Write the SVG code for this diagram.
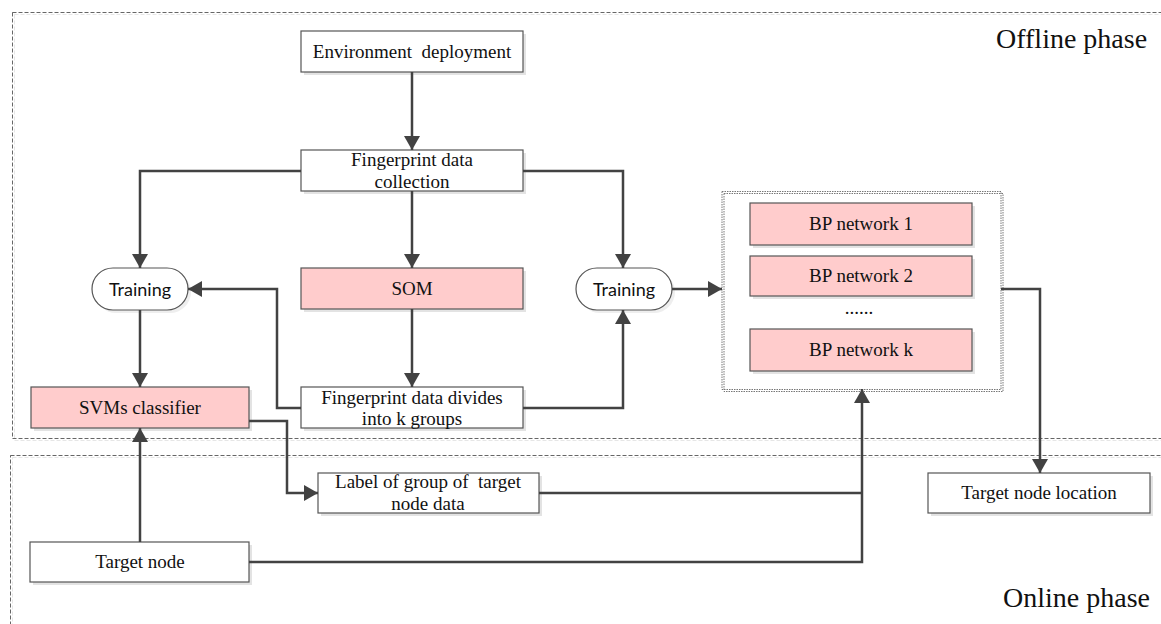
<svg xmlns="http://www.w3.org/2000/svg" width="1161" height="624" viewBox="0 0 1161 624">
<style>
.box{fill:#fff;stroke:#555;stroke-width:1.2}
.pink{fill:#ffcccc;stroke:#555;stroke-width:1.2}
.sh{fill:#e3e3e3;stroke:none}
.t{font-family:"Liberation Serif","Times New Roman",serif;font-size:19px;fill:#111;text-anchor:middle}
.ts{font-family:Lato,"Open Sans",sans-serif;font-size:18px;fill:#111;text-anchor:middle}
.ph{font-family:"Liberation Serif","Times New Roman",serif;font-size:28px;fill:#111}
.c{fill:none;stroke:#424242;stroke-width:2.5}
.dash{fill:none;stroke:#666;stroke-width:1;stroke-dasharray:4 2}
.dashsh{fill:none;stroke:#e6e6e6;stroke-width:1;stroke-dasharray:4 2}
.dot{fill:none;stroke:#777;stroke-width:1;stroke-dasharray:1.5 1}
</style>
<defs>
<marker id="ah" markerUnits="userSpaceOnUse" markerWidth="16" markerHeight="16" refX="14" refY="8" orient="auto">
<path d="M0,0 L14,8 L0,16 z" fill="#424242"/>
</marker>
</defs>
<rect width="1161" height="624" fill="#fff"/>
<g id="offline-phase">
<rect x="14.5" y="14.5" width="1160" height="426" class="dashsh"/>
<rect x="12.5" y="12.5" width="1160" height="426" class="dash"/>
<text x="996" y="48" class="ph">Offline phase</text>
</g>
<g id="online-phase">
<rect x="12.5" y="457.5" width="1160" height="200" class="dashsh"/>
<rect x="10.5" y="455.5" width="1160" height="200" class="dash"/>
<text x="1003" y="607" class="ph">Online phase</text>
</g>
<g id="env">
<rect x="304" y="34" width="222" height="41" class="sh"/>
<rect x="301" y="31" width="222" height="41" class="box"/>
<text x="412" y="58" class="t" xml:space="preserve">Environment  deployment</text>
</g>
<g id="fdc">
<rect x="304" y="153" width="222" height="41" class="sh"/>
<rect x="301" y="150" width="222" height="41" class="box"/>
<text x="412" y="166" class="t">Fingerprint data</text>
<text x="412" y="188" class="t">collection</text>
</g>
<g id="training1">
<rect x="95" y="271" width="96" height="42" rx="21" class="sh" fill-opacity="0.6"/>
<rect x="92" y="268" width="96" height="42" rx="21" class="box"/>
<text x="140" y="296" class="ts">Training</text>
</g>
<g id="som">
<rect x="304" y="271" width="222" height="41" class="sh"/>
<rect x="301" y="268" width="222" height="41" class="pink"/>
<text x="412" y="295" class="t">SOM</text>
</g>
<g id="training2">
<rect x="579" y="271" width="96" height="42" rx="21" class="sh" fill-opacity="0.6"/>
<rect x="576" y="268" width="96" height="42" rx="21" class="box"/>
<text x="624" y="296" class="ts">Training</text>
</g>
<g id="svms">
<rect x="34" y="390" width="218" height="41" class="sh"/>
<rect x="31" y="387" width="218" height="41" class="pink"/>
<text x="140" y="414" class="t">SVMs classifier</text>
</g>
<g id="fdk">
<rect x="304" y="390" width="222" height="41" class="sh"/>
<rect x="301" y="387" width="222" height="41" class="box"/>
<text x="412" y="404" class="t">Fingerprint data divides</text>
<text x="412" y="425" class="t">into k groups</text>
</g>
<g id="bp-group">
<rect x="724" y="193.5" width="279" height="198" class="dot" stroke="#e0e0e0"/>
<rect x="722" y="191.5" width="279" height="198" class="dot"/>
<rect x="753" y="206" width="222" height="42" class="sh"/>
<rect x="750" y="203" width="222" height="42" class="pink"/>
<text x="861" y="230" class="t">BP network 1</text>
<rect x="753" y="259" width="222" height="40" class="sh"/>
<rect x="750" y="256" width="222" height="40" class="pink"/>
<text x="861" y="282" class="t">BP network 2</text>
<text x="859" y="314" class="t">......</text>
<rect x="753" y="332" width="222" height="42" class="sh"/>
<rect x="750" y="329" width="222" height="42" class="pink"/>
<text x="861" y="356" class="t">BP network k</text>
</g>
<g id="label">
<rect x="321" y="476" width="221" height="40" class="sh"/>
<rect x="318" y="473" width="221" height="40" class="box"/>
<text x="428" y="488" class="t" xml:space="preserve">Label of group of  target</text>
<text x="428" y="510" class="t">node data</text>
</g>
<g id="target-node">
<rect x="33" y="545" width="219" height="40" class="sh"/>
<rect x="30" y="542" width="219" height="40" class="box"/>
<text x="140" y="568" class="t">Target node</text>
</g>
<g id="target-location">
<rect x="931" y="476" width="222" height="40" class="sh"/>
<rect x="928" y="473" width="222" height="40" class="box"/>
<text x="1039" y="499" class="t">Target node location</text>
</g>
<g id="connectors">
<path d="M412,72 V150" class="c" marker-end="url(#ah)"/>
<path d="M301,171 H140 V268" class="c" marker-end="url(#ah)"/>
<path d="M412,191 V268" class="c" marker-end="url(#ah)"/>
<path d="M523,171 H623 V268" class="c" marker-end="url(#ah)"/>
<path d="M412,309 V387" class="c" marker-end="url(#ah)"/>
<path d="M140,310 V387" class="c" marker-end="url(#ah)"/>
<path d="M301,408 H277 V289 H188" class="c" marker-end="url(#ah)"/>
<path d="M523,408 H623 V310" class="c" marker-end="url(#ah)"/>
<path d="M672,289 H722" class="c" marker-end="url(#ah)"/>
<path d="M1001,289 H1040 V473" class="c" marker-end="url(#ah)"/>
<path d="M249,421 H287 V493 H318" class="c" marker-end="url(#ah)"/>
<path d="M539,493 H862" class="c"/>
<path d="M249,562 H862 V389" class="c" marker-end="url(#ah)"/>
<path d="M140,542 V428" class="c" marker-end="url(#ah)"/>
</g>
</svg>
